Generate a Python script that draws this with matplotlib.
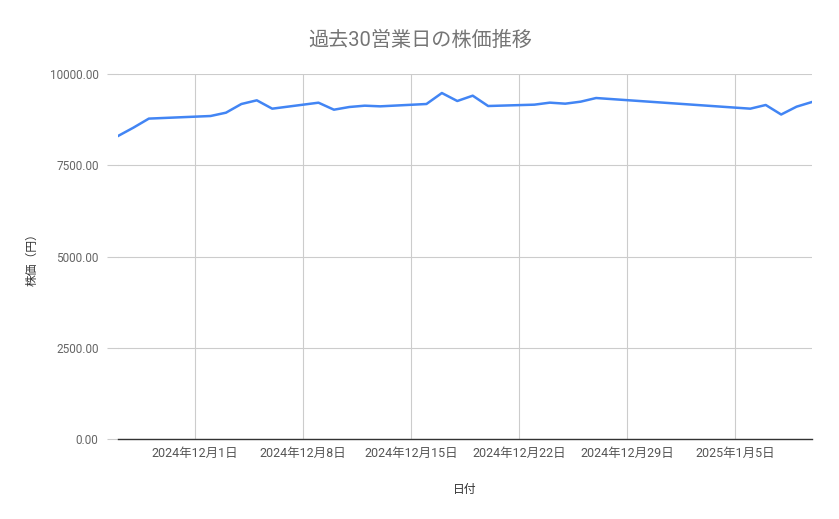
import matplotlib
matplotlib.use("Agg")
import matplotlib.pyplot as plt
from datetime import date

plt.rcParams['font.family'] = ['Roboto', 'Noto Sans CJK JP', 'DejaVu Sans']

# data
dates = [
    "2024-11-26", "2024-11-27", "2024-11-28",
    "2024-12-02", "2024-12-03", "2024-12-04", "2024-12-05", "2024-12-06",
    "2024-12-09", "2024-12-10", "2024-12-11", "2024-12-12", "2024-12-13",
    "2024-12-16", "2024-12-17", "2024-12-18", "2024-12-19", "2024-12-20",
    "2024-12-23", "2024-12-24", "2024-12-25", "2024-12-26", "2024-12-27",
    "2025-01-06", "2025-01-07", "2025-01-08", "2025-01-09", "2025-01-10",
]
prices = [
    8301, 8530, 8778,
    8849, 8940, 9178, 9279, 9050,
    9214, 9022, 9096, 9132, 9114,
    9178, 9479, 9260, 9406, 9123,
    9160, 9215, 9187, 9242, 9342,
    9050, 9151, 8890, 9105, 9233,
]
tick_dates = ["2024-12-01", "2024-12-08", "2024-12-15", "2024-12-22", "2024-12-29", "2025-01-05"]
tick_labels = ["2024年12月1日", "2024年12月8日", "2024年12月15日",
               "2024年12月22日", "2024年12月29日", "2025年1月5日"]
y_ticks = [0, 2500, 5000, 7500, 10000]

x = [date.fromisoformat(d) for d in dates]
xt = [date.fromisoformat(d) for d in tick_dates]

fig = plt.figure(figsize=(8.39, 5.19), dpi=100)
ax = fig.add_axes([118/839, 1-439/519, (812-118)/839, (439-74)/519])

ax.plot(x, prices, color="#4285f4", linewidth=1.8, solid_joinstyle="round")

ax.set_xlim(x[0], x[-1])
ax.set_ylim(0, 10000)
ax.set_xticks(xt)
ax.set_xticklabels(tick_labels)
ax.set_yticks(y_ticks)
ax.set_yticklabels([f"{v:.2f}" for v in y_ticks])

ax.grid(True, color="#cccccc", linewidth=0.8)
ax.set_axisbelow(True)
for s in ["top", "right", "left"]:
    ax.spines[s].set_visible(False)
ax.spines["bottom"].set_color("#333333")
ax.spines["bottom"].set_linewidth(1.0)

ax.tick_params(axis="y", length=8, color="#cccccc", width=0.8, pad=6, labelsize=8.5, labelcolor="#666666")
ax.tick_params(axis="x", length=0, pad=6, labelsize=9, labelcolor="#555555")

ax.set_xlabel("日付", fontsize=8.5, color="#333333", labelpad=16)
ax.set_ylabel("株価（円）", fontsize=8.5, color="#333333", labelpad=8)
fig.text(420/839, 1-40/519, "過去30営業日の株価推移", ha="center", va="center",
         fontsize=14.5, color="#757575")

fig.savefig("out.png", dpi=100)
